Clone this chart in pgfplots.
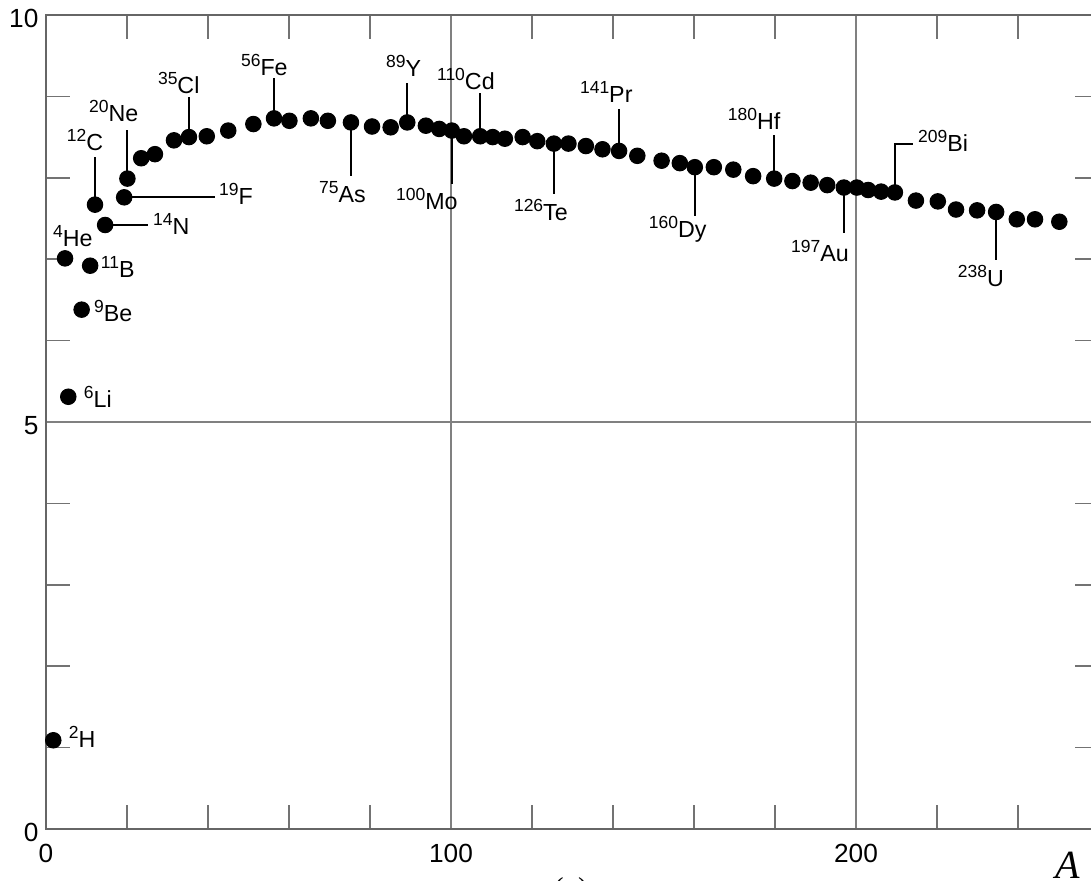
\documentclass[border=0pt]{standalone}
\usepackage{fontspec}
\setmainfont{Liberation Sans}
\newfontfamily\serif{Liberation Serif}
\usepackage{pgfplots}
\pgfplotsset{compat=1.18}

% isotope label: small raised mass number, then the symbol
\newcommand\iso[2]{{\fontsize{7}{7}\selectfont\raisebox{3.6pt}{#1}}#2}

\pgfplotstableread{
A     E
1.8   1.09
5.5   5.31
4.7   7.01
8.8   6.38
10.9  6.92
12.1  7.67
14.6  7.42
19.3  7.76
20.1  7.99
23.5  8.24
26.9  8.29
31.6  8.46
35.3  8.50
39.7  8.51
45.0  8.58
51.2  8.66
56.3  8.73
60.1  8.70
65.4  8.73
69.6  8.70
75.3  8.68
80.5  8.63
85.1  8.62
89.2  8.68
93.8  8.64
97.1  8.60
100.2 8.58
103.2 8.51
107.2 8.51
110.3 8.50
113.3 8.48
117.7 8.50
121.3 8.45
125.4 8.42
129.0 8.42
133.3 8.39
137.4 8.35
141.5 8.33
146.0 8.27
152.0 8.21
156.5 8.18
160.2 8.13
164.9 8.13
169.7 8.10
174.6 8.02
179.8 7.99
184.3 7.96
188.8 7.94
192.9 7.91
197.0 7.88
200.2 7.88
203.0 7.85
206.2 7.83
209.6 7.82
214.8 7.72
220.2 7.71
224.7 7.61
229.9 7.60
234.6 7.58
239.7 7.49
244.2 7.49
250.2 7.46
}\bind

\begin{document}
\begin{tikzpicture}
\begin{axis}[
  at={(0,0)}, anchor=south west,
  scale only axis, width=421.2pt, height=325.6pt,
  xmin=0, xmax=260, ymin=0, ymax=10,
  clip=false,
  axis line style={black!60, line width=1.1pt},
  xtick={0,100,200}, ytick={0,5,10},
  minor xtick={20,40,60,80,120,140,160,180,220,240},
  minor ytick={1,2,3,4,6,7,8,9},
  major tick length=0pt, minor tick length=9.6pt,
  tick align=inside,
  every tick/.style={black!55, line width=0.7pt},
  grid=major, major grid style={black!50, line width=0.7pt},
  tick label style={font=\fontsize{10.5}{11}\selectfont},
  xticklabel style={yshift=-2.5pt},
  yticklabel style={xshift=0.5pt, yshift=-1.5pt},
  /pgf/number format/assume math mode=true,
]
\addplot[only marks, mark=*, mark size=3.1pt, black] table[x=A, y=E] {\bind};

\begin{scope}[line width=0.85pt, every node/.style={inner sep=0pt, font=\fontsize{9.3}{10}\selectfont}]
% labels beside points
\node[anchor=base west] at (axis cs:5.4,1.00) {\iso{2}{H}};
\node[anchor=base west] at (axis cs:9.1,5.18) {\iso{6}{Li}};
\node[anchor=base west] at (axis cs:11.6,6.23) {\iso{9}{Be}};
\node[anchor=base west] at (axis cs:13.3,6.77) {\iso{11}{B}};
\node[anchor=base west] at (axis cs:1.5,7.15) {\iso{4}{He}};
% horizontal leaders
\draw (axis cs:14.6,7.42) -- (axis cs:25.2,7.42);
\node[anchor=base west] at (axis cs:26.2,7.30) {\iso{14}{N}};
\draw (axis cs:19.3,7.76) -- (axis cs:41.7,7.76);
\node[anchor=base west] at (axis cs:42.5,7.67) {\iso{19}{F}};
% leaders going up
\draw (axis cs:12.1,7.67) -- (axis cs:12.1,8.26);
\node[anchor=base west] at (axis cs:4.9,8.34) {\iso{12}{C}};
\draw (axis cs:20.1,7.99) -- (axis cs:20.1,8.59);
\node[anchor=base west] at (axis cs:10.4,8.69) {\iso{20}{Ne}};
\draw (axis cs:35.3,8.50) -- (axis cs:35.3,8.99);
\node[anchor=base west] at (axis cs:27.4,9.04) {\iso{35}{Cl}};
\draw (axis cs:56.3,8.73) -- (axis cs:56.3,9.23);
\node[anchor=base west] at (axis cs:47.9,9.26) {\iso{56}{Fe}};
\draw (axis cs:89.2,8.68) -- (axis cs:89.2,9.16);
\node[anchor=base west] at (axis cs:83.7,9.24) {\iso{89}{Y}};
\draw (axis cs:107.2,8.51) -- (axis cs:107.2,9.04);
\node[anchor=base west] at (axis cs:96.3,9.09) {\iso{110}{Cd}};
\draw (axis cs:141.5,8.33) -- (axis cs:141.5,8.85);
\node[anchor=base west] at (axis cs:131.6,8.92) {\iso{141}{Pr}};
\draw (axis cs:179.8,7.99) -- (axis cs:179.8,8.53);
\node[anchor=base west] at (axis cs:168.1,8.59) {\iso{180}{Hf}};
\draw (axis cs:209.6,7.82) -- (axis cs:209.6,8.41) -- (axis cs:214.1,8.41);
\node[anchor=base west] at (axis cs:215.1,8.32) {\iso{209}{Bi}};
% leaders going down
\draw (axis cs:75.3,8.68) -- (axis cs:75.3,8.02);
\node[anchor=base west] at (axis cs:67.2,7.70) {\iso{75}{As}};
\draw (axis cs:100.2,8.58) -- (axis cs:100.2,7.92);
\node[anchor=base west] at (axis cs:86.2,7.61) {\iso{100}{Mo}};
\draw (axis cs:125.4,8.42) -- (axis cs:125.4,7.80);
\node[anchor=base west] at (axis cs:115.3,7.47) {\iso{126}{Te}};
\draw (axis cs:160.2,8.13) -- (axis cs:160.2,7.53);
\node[anchor=base west] at (axis cs:148.6,7.27) {\iso{160}{Dy}};
\draw (axis cs:197.0,7.88) -- (axis cs:197.0,7.32);
\node[anchor=base west] at (axis cs:183.7,6.97) {\iso{197}{Au}};
\draw (axis cs:234.6,7.58) -- (axis cs:234.6,6.99);
\node[anchor=base west] at (axis cs:224.9,6.66) {\iso{238}{U}};
\end{scope}
\end{axis}
% axis label and panel mark near the lower frame, as in the source
\node[anchor=base, inner sep=0pt, font=\serif\itshape\fontsize{16}{16}\selectfont] at (408.8pt,-19.8pt) {A};
\node[anchor=north, inner sep=0pt, font=\serif\fontsize{11.5}{12}\selectfont] at (210pt,-19.4pt) {(\textit{a})};
\pgfresetboundingbox
\useasboundingbox (-18.4pt,-20.8pt) rectangle (418pt,331.6pt);
\end{tikzpicture}
\end{document}
